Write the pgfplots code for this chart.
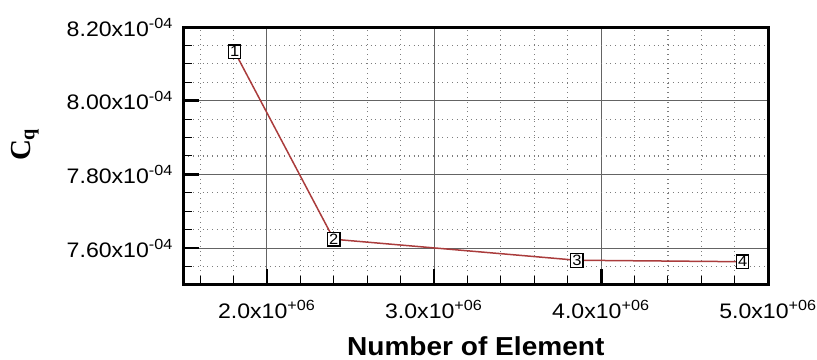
\documentclass[border=0pt]{standalone}
\usepackage{fontspec}
\setmainfont{Liberation Sans}[FakeStretch=1.1]
\newfontfamily\labelfont{Liberation Sans}[FakeStretch=1.08]
\newfontfamily\cqfont{Liberation Serif}
\usepackage{pgfplots}
\pgfplotsset{compat=1.18}
\usepackage{pgfplotstable}
\definecolor{linered}{RGB}{170,60,60}
\definecolor{majgrid}{RGB}{100,100,100}
\definecolor{mingrid}{RGB}{125,125,125}
\pgfplotstableread{
x y lab
1.807e6 8.133e-4 1
2.400e6 7.624e-4 2
3.855e6 7.567e-4 3
4.847e6 7.563e-4 4
}\mydata
\begin{document}
\begin{tikzpicture}
\path[use as bounding box] (-91.7pt,-37.5pt) rectangle (316.9pt,142.5pt);
\begin{axis}[
  at={(0,0)}, anchor=south west,
  scale only axis, width=292.5pt, height=129pt,
  xmin=1.5e6, xmax=5.0e6, ymin=7.5e-4, ymax=8.2e-4,
  scaled x ticks=false, scaled y ticks=false,
  xtick={2e6,3e6,4e6,5e6},
  xticklabels={2.0x10\textsuperscript{+06},3.0x10\textsuperscript{+06},4.0x10\textsuperscript{+06},5.0x10\textsuperscript{+06}},
  ytick={7.6e-4,7.8e-4,8.0e-4,8.2e-4},
  yticklabels={7.60x10\textsuperscript{-04},7.80x10\textsuperscript{-04},8.00x10\textsuperscript{-04},8.20x10\textsuperscript{-04}},
  minor xtick={1.6e6,1.8e6,2.2e6,2.4e6,2.6e6,2.8e6,3.2e6,3.4e6,3.6e6,3.8e6,4.2e6,4.4e6,4.6e6,4.8e6},
  minor ytick={7.55e-4,7.65e-4,7.70e-4,7.75e-4,7.85e-4,7.90e-4,7.95e-4,8.05e-4,8.10e-4,8.15e-4},
  xtick pos=bottom, ytick pos=left, tick align=inside,
  major tick length=8pt, minor tick length=4.5pt,
  major tick style={line width=1.4pt, black},
  minor tick style={line width=0.5pt, black},
  grid=both,
  major grid style={solid, line width=0.5pt, majgrid},
  minor grid style={dotted, line width=0.55pt, mingrid},
  axis line style={line width=1.5pt, black},
  tick label style={font=\fontsize{10.5}{12}\selectfont},
  xticklabel style={anchor=north, yshift=-4pt},
  yticklabel style={anchor=east, xshift=-1.5pt},
  xlabel={\labelfont\bfseries Number of Element},
  xlabel style={font=\fontsize{13}{15}\selectfont, at={(axis description cs:0.5,-0.238)}, anchor=center},
  ylabel={\cqfont\bfseries C\textsubscript{q}},
  ylabel style={font=\fontsize{14.5}{16}\selectfont, at={(axis description cs:-0.271,0.545)}, anchor=center},
  clip=false,
]
\addplot[linered, line width=0.75pt, mark=none] table[x=x,y=y] {\mydata};
\addplot[only marks, mark=none, point meta=explicit symbolic,
  nodes near coords,
  every node near coord/.style={anchor=center, draw=black, fill=white, line width=0.65pt,
    inner sep=0.8pt, font=\fontsize{7.5}{8}\selectfont, minimum width=6pt, minimum height=6.5pt}]
  table[x=x,y=y,meta=lab] {\mydata};
\end{axis}
\end{tikzpicture}
\end{document}
